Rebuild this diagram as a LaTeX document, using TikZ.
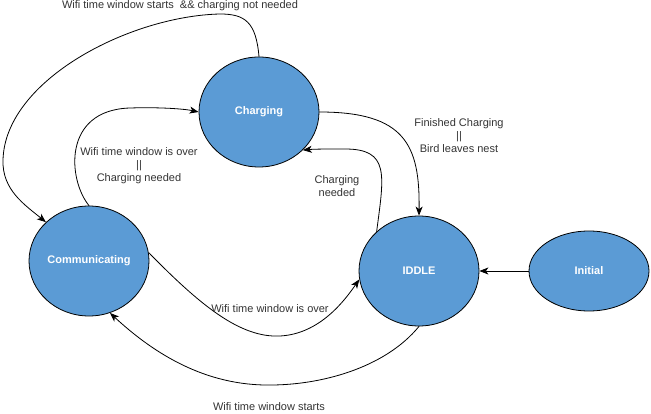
\documentclass[tikz,border=0pt]{standalone}
\usepackage{fontspec}
\setmainfont{Liberation Sans}
\usetikzlibrary{shapes.geometric,arrows.meta}
\definecolor{stblue}{RGB}{91,155,213}
\definecolor{lblgray}{RGB}{51,51,51}
\begin{document}
\begin{tikzpicture}[x=1pt, y=-1pt, font=\fontsize{11}{13}\selectfont, line join=round, line cap=round, >={Stealth[length=9pt,width=7pt,inset=2.5pt]},
	stnode/.style={ellipse, draw, line width=0.8pt, fill=stblue, text=white, font=\fontsize{11}{13}\selectfont\bfseries, inner sep=0pt, minimum width=120pt, minimum height=110pt},
	lbl/.style={text=lblgray, align=center, inner sep=0pt},
	edge/.style={->, line width=0.8pt}]
				\useasboundingbox (0,0) rectangle (651,414);
				\node[stnode] (chg) at (259,112) {Charging};
				\node[stnode] (com) at (89,261) {Communicating};
				\node[stnode] (idl) at (419,271) {IDDLE};
				\node[stnode, minimum height=80pt] (ini) at (589,271) {Initial};
				% transitions
				\draw[edge] (chg.north) .. controls (256,22) and (245,14) .. (220,14) .. controls (130,16) and (5,80) .. (3,160) .. controls (2,190) and (25,205) .. (com.138);
				\draw[edge] (com.north) .. controls (68,180) and (62,110) .. (130,108) .. controls (160,107) and (185,109) .. (chg.west);
				\draw[edge] (chg.east) .. controls (405,112) and (420,145) .. (idl.north);
				\draw[edge] (idl.137) .. controls (384,175) and (390,149) .. (345,149) .. controls (328,149) and (315,149) .. (chg.-41);
				\draw[edge] (com.8) .. controls (200,305) and (240,338) .. (280,336) .. controls (320,334) and (345,300) .. (idl.188);
				\draw[edge] (idl.south) .. controls (385,368) and (320,386) .. (265,385) .. controls (200,384) and (150,350) .. (com.-68);
				\draw[edge] (ini.west) -- (idl.east);
				% labels
				\node[lbl] (l1) at (180,6) {Wifi time window starts \ \&\& charging not needed};
				\node[lbl] (l2) at (139,166) {Wifi time window is over\\ ||\\ Charging needed};
				\node[lbl] (l3) at (459,136) {Finished Charging\\ ||\\ Bird leaves nest};
				\node[lbl] (l4) at (337,186) {Charging\\ needed};
				\node[lbl] (l5) at (270,309) {Wifi time window is over};
				\node[lbl] (l6) at (269,407) {Wifi time window starts};
			\end{tikzpicture}
\end{document}
